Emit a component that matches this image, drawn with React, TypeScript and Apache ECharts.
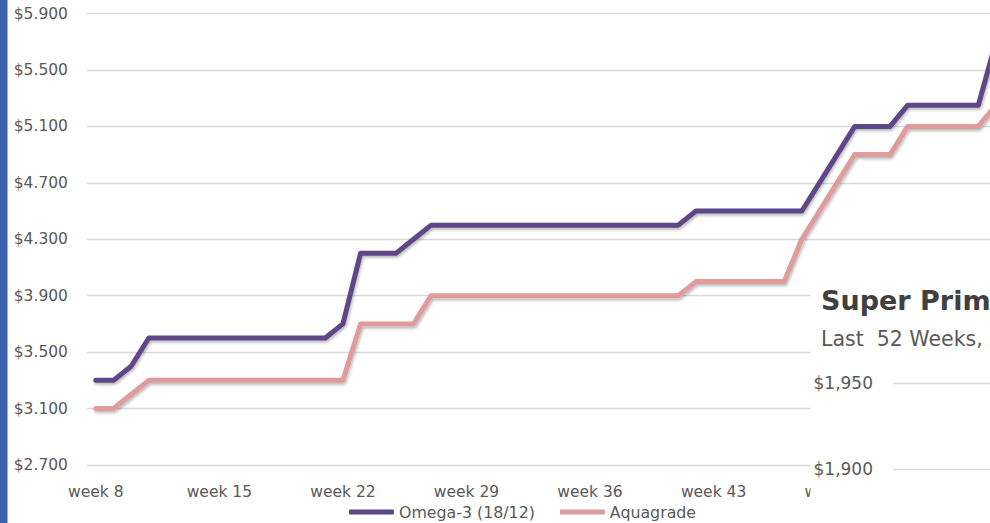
import React, { useEffect, useRef } from "react";
import * as echarts from "echarts";

const weeks = [
  "week 8", "week 9", "week 10", "week 11", "week 12", "week 13", "week 14",
  "week 15", "week 16", "week 17", "week 18", "week 19", "week 20", "week 21",
  "week 22", "week 23", "week 24", "week 25", "week 26", "week 27", "week 28",
  "week 29", "week 30", "week 31", "week 32", "week 33", "week 34", "week 35",
  "week 36", "week 37", "week 38", "week 39", "week 40", "week 41", "week 42",
  "week 43", "week 44", "week 45", "week 46", "week 47", "week 48", "week 49",
  "week 50", "week 51", "week 52", "week 1", "week 2", "week 3", "week 4",
  "week 5", "week 6", "week 7",
];

const omega3 = [
  3300, 3300, 3400, 3600, 3600, 3600, 3600, 3600, 3600, 3600, 3600, 3600, 3600, 3600,
  3700, 4200, 4200, 4200, 4300, 4400, 4400, 4400, 4400, 4400, 4400, 4400, 4400, 4400,
  4400, 4400, 4400, 4400, 4400, 4400, 4500, 4500, 4500, 4500, 4500, 4500, 4500, 4700,
  4900, 5100, 5100, 5100, 5250, 5250, 5250, 5250, 5250, 5700,
];

const aquagrade = [
  3100, 3100, 3200, 3300, 3300, 3300, 3300, 3300, 3300, 3300, 3300, 3300, 3300, 3300,
  3300, 3700, 3700, 3700, 3700, 3900, 3900, 3900, 3900, 3900, 3900, 3900, 3900, 3900,
  3900, 3900, 3900, 3900, 3900, 3900, 4000, 4000, 4000, 4000, 4000, 4000, 4300, 4500,
  4700, 4900, 4900, 4900, 5100, 5100, 5100, 5100, 5100, 5250,
];

const seriesNames = ["Omega-3 (18/12)", "Aquagrade"];
const seriesColors = ["#5e4787", "#e09b9b"];

const overlayTicks = [1900, 1950];
const overlayTitle = "Super Prim";
const overlaySubtitle = "Last  52 Weeks,";

const FONT = "DejaVu Sans";
const LABEL = "#595959";

function dotThousands(v: number) {
  return Math.round(v).toString().replace(/\B(?=(\d{3})+(?!\d))/g, ".");
}
function commaThousands(v: number) {
  return Math.round(v).toString().replace(/\B(?=(\d{3})+(?!\d))/g, ",");
}

export default function App() {
  const ref = useRef<HTMLDivElement>(null);

  useEffect(() => {
    if (!ref.current) return;
    const chart = echarts.init(ref.current, undefined, { renderer: "svg" });
    const lineSeries = [omega3, aquagrade].map((d, i) => ({
      name: seriesNames[i],
      type: "line",
      xAxisIndex: 0,
      yAxisIndex: 0,
      data: d,
      symbol: "none",
      showSymbol: false,
      z: 2,
      lineStyle: {
        width: 5,
        color: seriesColors[i],
        cap: "round",
        join: "round",
        shadowColor: "rgba(0,0,0,0.28)",
        shadowBlur: 3,
        shadowOffsetX: 1,
        shadowOffsetY: 2,
      },
      itemStyle: { color: seriesColors[i] },
    }));

    chart.setOption({
      animation: false,
      backgroundColor: "#ffffff",
      textStyle: { fontFamily: FONT },
      grid: [
        { left: 87, top: 13.5, width: 917.8, height: 451.5 },
        { left: 893, top: 383, right: 0, height: 86 },
      ],
      xAxis: [
        {
          type: "category",
          gridIndex: 0,
          data: weeks,
          boundaryGap: true,
          axisLine: { show: false },
          axisTick: { show: false },
          axisLabel: {
            interval: 6,
            color: LABEL,
            fontFamily: FONT,
            fontSize: 15.5,
            margin: 19,
          },
          splitLine: { show: false },
        },
        {
          type: "category",
          gridIndex: 1,
          data: weeks,
          show: false,
        },
      ],
      yAxis: [
        {
          type: "value",
          gridIndex: 0,
          min: 2700,
          max: 5900,
          interval: 400,
          axisLine: { show: false },
          axisTick: { show: false },
          axisLabel: {
            color: LABEL,
            fontFamily: FONT,
            fontSize: 15.5,
            margin: 19,
            formatter: (v: number) => "$" + dotThousands(v),
          },
          splitLine: { lineStyle: { color: "#d9d9d9", width: 1.3 } },
        },
        {
          type: "value",
          gridIndex: 1,
          min: overlayTicks[0],
          max: overlayTicks[1],
          interval: 50,
          z: 20,
          axisLine: { show: false },
          axisTick: { show: false },
          axisLabel: {
            color: LABEL,
            fontFamily: FONT,
            fontSize: 17,
            margin: 20,
            formatter: (v: number) => "$" + commaThousands(v),
          },
          splitLine: { lineStyle: { color: "#d9d9d9", width: 1.3 } },
        },
      ],
      legend: {
        left: 349,
        top: 504,
        icon: "roundRect",
        itemWidth: 45,
        itemHeight: 5,
        itemGap: 25,
        padding: 0,
        data: seriesNames,
        textStyle: { color: LABEL, fontFamily: FONT, fontSize: 15.8, lineHeight: 16 },
      },
      graphic: [
        {
          type: "rect",
          z: 10,
          shape: { x: 0, y: 0, width: 7.5, height: 523 },
          style: { fill: "#3e5fae" },
        },
        {
          type: "rect",
          z: 10,
          shape: { x: 810.5, y: 268, width: 300, height: 300 },
          style: { fill: "#ffffff" },
        },
        {
          type: "text",
          z: 25,
          x: 821,
          y: 300,
          style: {
            text: overlayTitle,
            font: `bold 27px "${FONT}"`,
            fill: "#404040",
            verticalAlign: "middle",
          },
        },
        {
          type: "text",
          z: 25,
          x: 821,
          y: 339,
          style: {
            text: overlaySubtitle,
            font: `20.5px "${FONT}"`,
            fill: "#595959",
            verticalAlign: "middle",
          },
        },
      ],
      series: lineSeries,
    });
    return () => chart.dispose();
  }, []);

  return (
    <div
      style={{
        position: "fixed",
        left: 0,
        top: 0,
        width: 990,
        height: 523,
        overflow: "hidden",
        background: "#ffffff",
      }}
    >
      <div ref={ref} style={{ width: 1020, height: 523 }} />
    </div>
  );
}
